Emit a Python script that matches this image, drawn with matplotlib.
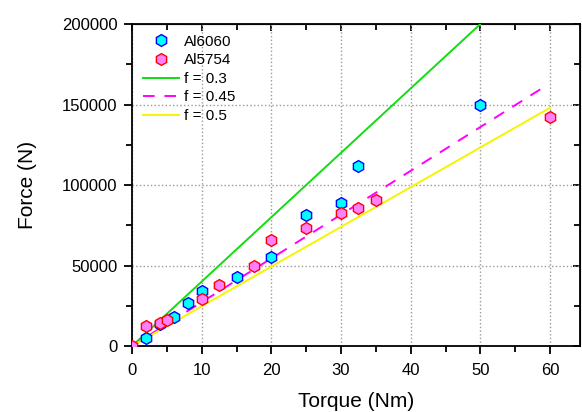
import matplotlib.pyplot as plt
from matplotlib.ticker import MultipleLocator

plt.rcParams['font.family'] = ['Liberation Sans', 'DejaVu Sans']

t_6060 = [2, 4, 6, 8, 10, 15, 20, 25, 30, 32.5, 50]
f_6060 = [5000, 13500, 18000, 27000, 34000, 43000, 55000, 81500, 89000, 111500, 150000]

t_5754 = [0, 2, 4, 5, 10, 12.5, 17.5, 20, 25, 30, 32.5, 35, 60]
f_5754 = [0, 12500, 14500, 16000, 29500, 38000, 50000, 66000, 73500, 82500, 86000, 90500, 142500]

# friction coefficient lines (end points)
t_f03 = [0, 50]
f_f03 = [0, 200000]
t_f045 = [0, 59]
f_f045 = [0, 160500]
t_f05 = [0, 60]
f_f05 = [0, 148000]

fig = plt.figure(figsize=(5.82, 4.12), dpi=100)
ax = fig.add_axes([0.2268, 0.1602, 0.7698, 0.7815])

ax.plot(t_6060, f_6060, 'h', ms=8.5, mfc='#00FFFF', mec='#0000FF', mew=1.0,
        label='Al6060', zorder=4)
ax.plot(t_5754, f_5754, 'h', ms=8.5, mfc='#FF80FF', mec='#FF0000', mew=1.0,
        label='Al5754', zorder=5)
ax.plot(t_f03, f_f03, '-', color='#11DD11', lw=1.4, label='f = 0.3', zorder=3)
ax.plot(t_f045, f_f045, '--', color='#FF00FF', lw=1.4, dashes=(6, 5), label='f = 0.45', zorder=3)
ax.plot(t_f05, f_f05, '-', color='#F5F500', lw=1.4, label='f = 0.5', zorder=3)

ax.set_xlim(0, 64.3)
ax.set_ylim(0, 200000)
ax.xaxis.set_major_locator(MultipleLocator(10))
ax.xaxis.set_minor_locator(MultipleLocator(5))
ax.yaxis.set_major_locator(MultipleLocator(50000))
ax.yaxis.set_minor_locator(MultipleLocator(25000))

ax.grid(True, which='major', linestyle=':', color='#999999', lw=1.0)
ax.set_axisbelow(True)

for s in ax.spines.values():
    s.set_linewidth(1.3)

ax.tick_params(which='both', bottom=True, left=True, top=False, right=False,
               direction='out', width=1.3, labelsize=12)
ax.tick_params(which='major', length=6)
ax.tick_params(which='minor', length=4)
ax.tick_params(axis='x', which='major', pad=6.5)
ax.tick_params(axis='y', which='major', pad=4.5)

# inward ticks on top and right
ax_top = ax.secondary_xaxis('top')
ax_top.xaxis.set_major_locator(MultipleLocator(10))
ax_top.xaxis.set_minor_locator(MultipleLocator(5))
ax_top.tick_params(which='both', direction='in', width=1.3, labeltop=False)
ax_top.tick_params(which='major', length=5)
ax_top.tick_params(which='minor', length=4)
ax_right = ax.secondary_yaxis('right')
ax_right.yaxis.set_major_locator(MultipleLocator(50000))
ax_right.yaxis.set_minor_locator(MultipleLocator(25000))
ax_right.tick_params(which='both', direction='in', width=1.3, labelright=False)
ax_right.tick_params(which='major', length=5)
ax_right.tick_params(which='minor', length=4)

ax.set_xlabel('Torque (Nm)', fontsize=15, labelpad=10)
ax.set_ylabel('Force (N)', fontsize=15, labelpad=18)

ax.legend(loc='upper left', frameon=False, fontsize=11, numpoints=1,
          handlelength=2.35, handletextpad=0.35, labelspacing=0.3,
          borderaxespad=0.4, borderpad=0.3)

fig.savefig('out.png', dpi=100)
